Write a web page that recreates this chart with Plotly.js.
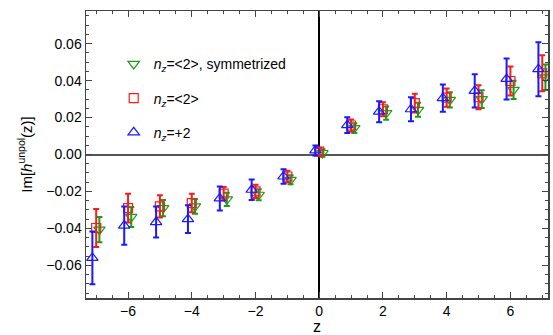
<!DOCTYPE html>
<html>
<head>
<meta charset="utf-8">
<script src="https://cdn.plot.ly/plotly-3.0.1.min.js"></script>
<style>html,body{margin:0;padding:0;background:#fff;}#chart{width:553px;height:335px;}</style>
</head>
<body>
<div id="chart"></div>
<script>
const z = [-7,-6,-5,-4,-3,-2,-1,0,1,2,3,4,5,6,7];

const bluePlus2 = [-0.056,-0.0385,-0.0366,-0.035,-0.0238,-0.0191,-0.0119,0.0022,0.0159,0.0232,0.0245,0.0305,0.0344,0.0409,0.0462];
const bluePlus2Err = [0.0143,0.0104,0.0084,0.0075,0.0065,0.0055,0.0039,0.0027,0.0043,0.0057,0.0065,0.0074,0.009,0.0111,0.0146];

const redAvg = [-0.0398,-0.029,-0.0281,-0.0263,-0.0212,-0.020,-0.0119,0.0016,0.0157,0.0245,0.0278,0.0308,0.031,0.0398,0.044];
const redAvgErr = [0.0103,0.0078,0.006,0.005,0.0036,0.0036,0.0031,0.002,0.0032,0.0038,0.0051,0.005,0.0065,0.0078,0.0097];

const greenSym = [-0.0407,-0.0338,-0.029,-0.0281,-0.0243,-0.0218,-0.0137,0.0008,0.0143,0.0224,0.0242,0.0296,0.030,0.035,0.0418];
const greenSymErr = [0.0068,0.0054,0.0044,0.004,0.0036,0.003,0.0024,0.002,0.0026,0.0036,0.0038,0.0041,0.0048,0.005,0.0069];

const names = ['<i>n<sub>z</sub></i>=&lt;2&gt;, symmetrized','<i>n<sub>z</sub></i>=&lt;2&gt;','<i>n<sub>z</sub></i>=+2'];
const xShift = [0.1, 0, -0.12];

function tr(vals, errs, name, shift, color, symbol, size, grp){
  return {
    x: z.map(v => v + shift), y: vals, name: name, type: 'scatter', mode: 'markers',
    legendgroup: grp,
    marker: {symbol: symbol, size: size, color: color, line: {color: color, width: 1.2}},
    error_y: {type: 'data', array: errs, visible: true, color: color, thickness: 2, width: 3}
  };
}

const data = [
  tr(greenSym, greenSymErr, names[0], xShift[0], '#1a9e1a', 'triangle-down-open', 10, 'g'),
  tr(redAvg, redAvgErr, names[1], xShift[1], '#ff1a1a', 'square-open', 9, 'r'),
  tr(bluePlus2, bluePlus2Err, names[2], xShift[2], '#1a1aff', 'triangle-up-open', 10, 'b')
];

const fnt = {family: 'Liberation Sans, Arial, sans-serif', size: 14, color: '#000'};

const layout = {
  width: 553, height: 335,
  margin: {l: 86, r: 5, t: 11, b: 37},
  paper_bgcolor: '#fff', plot_bgcolor: '#fff',
  font: fnt,
  showlegend: true,
  legend: {x: 0.06, y: 0.87, xanchor: 'left', yanchor: 'top', bgcolor: 'rgba(0,0,0,0)',
           traceorder: 'grouped', tracegroupgap: 13, font: {family: fnt.family, size: 14, color: '#000'}},
  xaxis: {
    range: [-7.32, 7.18], tickmode: 'linear', tick0: 0, dtick: 2,
    ticks: 'inside', ticklen: 6, tickwidth: 1, tickcolor: '#444',
    minor: {dtick: 0.5, ticks: 'inside', ticklen: 3, tickcolor: '#444', showgrid: false},
    showline: true, linecolor: '#444', linewidth: 1.5, mirror: 'allticks',
    showgrid: false, zeroline: true, zerolinecolor: '#000', zerolinewidth: 1.5,
    tickfont: fnt, automargin: false,
    title: {text: 'z', font: {family: fnt.family, size: 16, color: '#000'}, standoff: 9}
  },
  yaxis: {
    range: [-0.0777, 0.0777], tickmode: 'linear', tick0: 0, dtick: 0.02, tickformat: '.2f',
    ticks: 'inside', ticklen: 6, tickwidth: 1, tickcolor: '#444',
    minor: {dtick: 0.005, ticks: 'inside', ticklen: 3, tickcolor: '#444', showgrid: false},
    showline: true, linecolor: '#444', linewidth: 1.5, mirror: 'allticks',
    showgrid: false, zeroline: true, zerolinecolor: '#555', zerolinewidth: 2,
    tickfont: fnt,
    title: {text: 'Im[<i>h</i><sup>unpol</sup>(z)]', font: {family: fnt.family, size: 15, color: '#000'}, standoff: 10}
  }
};

Plotly.newPlot('chart', data, layout, {displayModeBar: false, staticPlot: true});
</script>
</body>
</html>
